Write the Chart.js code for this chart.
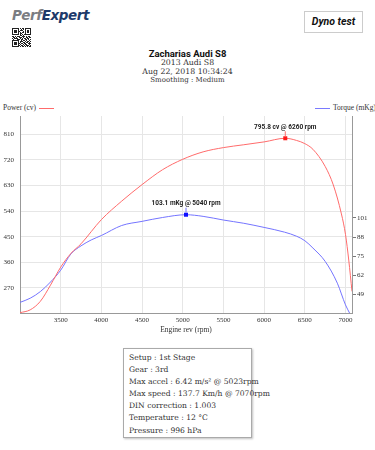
<!DOCTYPE html>
<html>
<head>
<meta charset="utf-8">
<script src="https://cdn.jsdelivr.net/npm/chart.js@4.4.0/dist/chart.umd.min.js"></script>
<style>
  body { margin: 0; width: 375px; height: 450px; background: #fff; position: relative; overflow: hidden; font-family: "DejaVu Serif", serif; color: #222; }
  .logo { position: absolute; left: 12px; top: 7px; font: italic 900 13.5px "DejaVu Sans", sans-serif; letter-spacing: -0.4px; }
  .logo .a { color: #7b7d82; }
  .logo .b { color: #1d3a6b; }
  #qr { position: absolute; left: 12px; top: 28px; }
  .dyno { position: absolute; left: 304px; top: 11px; width: 59px; height: 22px; border: 1px solid #ccc; box-sizing: border-box; font: italic bold 10.5px Roboto, sans-serif; text-align: center; line-height: 20px; color: #111; }
  .head { position: absolute; left: 0; width: 375px; text-align: center; }
  .t1 { top: 48px; font: bold 9.5px Roboto, sans-serif; color: #111; }
  .t2 { top: 58px; font: 7.8px "DejaVu Serif", serif; color: #333; }
  .t3 { top: 67px; font: 7.8px "DejaVu Serif", serif; color: #333; }
  .t4 { top: 76px; font: 7px "DejaVu Serif", serif; color: #333; }
  .leg { position: absolute; top: 103px; font: 7.5px "Liberation Serif", serif; color: #333; white-space: nowrap; }
  .leg i { display: inline-block; width: 15px; height: 1px; vertical-align: middle; margin: 0 3px; }
  #chart { position: absolute; left: 0; top: 100px; }
  .info { position: absolute; left: 123px; top: 348px; width: 129px; height: 90px; border: 1px solid #aaa; box-sizing: border-box; box-shadow: 1px 1px 2px rgba(0,0,0,0.25); padding: 3px 0 0 5px; font: 7.6px "DejaVu Serif", serif; color: #333; }
  .info div { height: 12.1px; line-height: 12.1px; white-space: nowrap; }
</style>
</head>
<body>
<div class="logo"><span class="a">Perf</span><span class="b">Expert</span></div>
<canvas id="qr" width="19" height="19"></canvas>
<div class="dyno">Dyno test</div>
<div class="head t1">Zacharias Audi S8</div>
<div class="head t2">2013 Audi S8</div>
<div class="head t3">Aug 22, 2018 10:34:24</div>
<div class="head t4">Smoothing : Medium</div>
<div class="leg" style="left:3px">Power (cv)<i style="background:#ff6b6b"></i></div>
<div class="leg" style="left:312px"><i style="background:#7a7aff"></i>Torque (mKg)</div>
<canvas id="chart" width="375" height="240"></canvas>
<div class="info">
  <div>Setup : 1st Stage</div>
  <div>Gear : 3rd</div>
  <div>Max accel : 6.42 m/s² @ 5023rpm</div>
  <div>Max speed : 137.7 Km/h @ 7070rpm</div>
  <div>DIN correction : 1.003</div>
  <div>Temperature : 12 °C</div>
  <div>Pressure : 996 hPa</div>
</div>
<script>
// data
const powerRpm = [3000, 3125, 3250, 3375, 3500, 3625, 3750, 4000, 4250, 4500, 4750, 5000, 5250, 5500, 5750, 6000, 6260, 6400, 6500, 6600, 6750, 6850, 6950, 7000, 7040, 7080];
const power    = [183, 193, 223, 280, 343, 391, 425, 510, 575, 633, 685, 722, 748, 763, 773, 783, 795.8, 788, 777, 757, 697, 632, 530, 458, 368, 258];
const torqueRpm = [3000, 3125, 3250, 3375, 3500, 3625, 3750, 3875, 4000, 4250, 4500, 4750, 5040, 5250, 5500, 5750, 6000, 6250, 6400, 6500, 6600, 6750, 6900, 7000, 7050];
const torque    = [43.7, 46.5, 51, 57.5, 65.5, 76.5, 82, 86, 89, 95.8, 98.6, 101.2, 103.1, 102, 99.5, 97.3, 94.5, 91.3, 88.5, 85.5, 80.5, 71.5, 56.7, 42, 36.5];
const rpmTicks = [3500, 4000, 4500, 5000, 5500, 6000, 6500, 7000];
const powerTicks = [270, 360, 450, 540, 630, 720, 810];
const torqueTicks = [49, 62, 75, 88, 101];

// QR code decoration
const qrRows = [
  '1111111010110111111', '1000001001010100001', '1011101011100101101', '1011101100010101101',
  '1011101010110101101', '1000001011000100001', '1111111010101111111', '0000000011010000000',
  '1101011100111010110', '0110100111010011011', '1011110010101101100', '0100011101100110101',
  '1111111001011010010', '1000001011100101101', '1011101010011011010', '1011101101101100111',
  '1011101010010110010', '1000001101101011101', '1111111010110101011'
];
const qctx = document.getElementById('qr').getContext('2d');
qctx.fillStyle = '#222';
qrRows.forEach((row, r) => {
  for (let c = 0; c < row.length; c++) if (row[c] === '1') qctx.fillRect(c, r, 1, 1);
});

const tickFont = { family: '"Liberation Serif", serif', size: 7 };
const plain = v => String(v);

const peakPlugin = {
  id: 'peaks',
  afterDatasetsDraw(chart) {
    const ctx = chart.ctx;
    chart.data.datasets.forEach((ds, i) => {
      const meta = chart.getDatasetMeta(i);
      let best = 0;
      ds.data.forEach((p, k) => { if (p.y > ds.data[best].y) best = k; });
      const pt = ds.data[best];
      const x = chart.scales.x.getPixelForValue(pt.x);
      const y = chart.scales[meta.yAxisID].getPixelForValue(pt.y);
      ctx.save();
      ctx.fillStyle = ds.markColor;
      ctx.fillRect(x - 2, y - 2, 4, 4);
      ctx.strokeStyle = ds.borderColor;
      ctx.lineWidth = 1;
      ctx.beginPath();
      ctx.moveTo(x, y - 2);
      ctx.lineTo(x, y - 7);
      ctx.stroke();
      ctx.fillStyle = '#222';
      ctx.font = 'bold 6.5px Roboto, sans-serif';
      ctx.textAlign = 'center';
      ctx.textBaseline = 'middle';
      ctx.fillText(pt.y + ' ' + ds.unit + ' @ ' + pt.x + ' rpm', x, y - 11);
      ctx.restore();
    });
  }
};

new Chart(document.getElementById('chart'), {
  type: 'line',
  data: {
    datasets: [{
      label: 'Power (cv)',
      unit: 'cv',
      data: powerRpm.map((r, i) => ({ x: r, y: power[i] })),
      borderColor: '#ff6b6b',
      markColor: '#ff1a1a',
      borderWidth: 1,
      pointRadius: 0,
      cubicInterpolationMode: 'monotone',
      yAxisID: 'y'
    }, {
      label: 'Torque (mKg)',
      unit: 'mKg',
      data: torqueRpm.map((r, i) => ({ x: r, y: torque[i] })),
      borderColor: '#7474ff',
      markColor: '#1010ff',
      borderWidth: 1,
      pointRadius: 0,
      cubicInterpolationMode: 'monotone',
      yAxisID: 'y1'
    }]
  },
  options: {
    responsive: false,
    animation: false,
    layout: { padding: { top: 16, left: 0, right: 0, bottom: 0 } },
    plugins: { legend: { display: false }, tooltip: { enabled: false } },
    scales: {
      x: {
        type: 'linear',
        min: 3000,
        max: 7080,
        afterBuildTicks: s => { s.ticks = rpmTicks.map(v => ({ value: v })); },
        afterFit: s => { s.height = 27; },
        grid: { color: '#e6e6e6', drawTicks: false },
        border: { color: '#999' },
        ticks: { font: tickFont, color: '#333', padding: 3, maxRotation: 0, callback: plain },
        title: { display: true, text: 'Engine rev (rpm)', font: { family: '"Liberation Serif", serif', size: 7.5 }, color: '#333', padding: { top: 0, bottom: 5 } }
      },
      y: {
        position: 'left',
        min: 182,
        max: 874,
        afterBuildTicks: s => { s.ticks = powerTicks.map(v => ({ value: v })); },
        afterFit: s => { s.width = 20; },
        grid: { color: '#e6e6e6', drawTicks: false },
        border: { color: '#999' },
        ticks: { font: tickFont, color: '#333', padding: 6, callback: plain }
      },
      y1: {
        position: 'right',
        min: 36.5,
        max: 170,
        afterBuildTicks: s => { s.ticks = torqueTicks.map(v => ({ value: v })); },
        afterFit: s => { s.width = 23; },
        grid: { drawOnChartArea: false, color: '#777', tickLength: 4 },
        border: { color: '#999' },
        ticks: { font: tickFont, color: '#333', padding: 1, callback: plain }
      }
    }
  },
  plugins: [peakPlugin]
});
</script>
</body>
</html>
